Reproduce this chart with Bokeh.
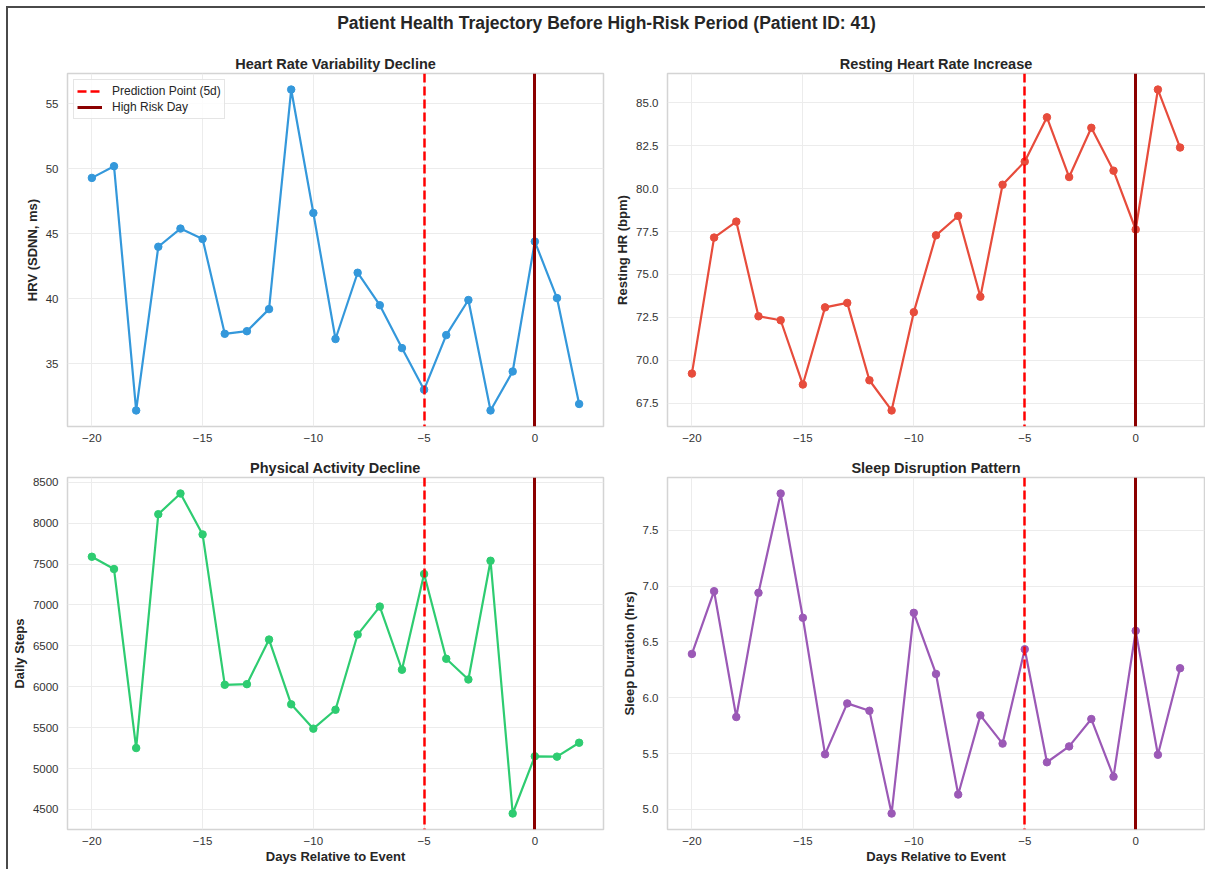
from bokeh.plotting import figure
from bokeh.models import Range1d, FixedTicker, NumeralTickFormatter, Div, Legend, LegendItem
from bokeh.layouts import column, row
from bokeh.embed import file_html
from bokeh.resources import INLINE

# ---------------- data ----------------
days = list(range(-20, 3))
hrv = [49.3, 50.2, 31.4, 44.0, 45.4, 44.6, 37.3, 37.5, 39.2, 56.1, 46.6, 36.9,
       42.0, 39.5, 36.2, 33.0, 37.2, 39.9, 31.4, 34.4, 44.4, 40.05, 31.9]
rhr = [69.22, 77.15, 78.08, 72.56, 72.33, 68.58, 73.08, 73.34, 68.83, 67.07, 72.8, 77.28,
       78.41, 73.7, 80.23, 81.58, 84.16, 80.68, 83.55, 81.05, 77.62, 85.78, 82.40]
steps = [7589, 7439, 5251, 8109, 8362, 7862, 6024, 6032, 6577, 5785, 5488, 5719,
         6638, 6980, 6208, 7378, 6342, 6089, 7540, 4451, 5150, 5146, 5316]
sleep = [6.393, 6.955, 5.828, 6.94, 7.83, 6.717, 5.494, 5.95, 5.884, 4.964, 6.761, 6.214,
         5.134, 5.843, 5.59, 6.435, 5.423, 5.565, 5.81, 5.294, 6.6, 5.49, 6.265]

PRED_DAY = -5
RISK_DAY = 0

x_ticks = [-20, -15, -10, -5, 0]
hrv_ticks = [35, 40, 45, 50, 55]
rhr_ticks = [67.5, 70.0, 72.5, 75.0, 77.5, 80.0, 82.5, 85.0]
steps_ticks = [4500, 5000, 5500, 6000, 6500, 7000, 7500, 8000, 8500]
sleep_ticks = [5.0, 5.5, 6.0, 6.5, 7.0, 7.5]

main_title = "Patient Health Trajectory Before High-Risk Period (Patient ID: 41)"
FONT = "Liberation Sans"
TXT = "#262626"


def pad(vals, f=0.05):
    lo, hi = min(vals), max(vals)
    s = hi - lo
    return lo - f * s, hi + f * s


def panel(title, ylabel, vals, color, yticks, yfmt, w, h, bl, br, bt, bb,
          xlabel=None, legend=False):
    x_lo, x_hi = pad(days)
    y_lo, y_hi = pad(vals)
    p = figure(width=w, height=h,
               min_border_left=bl, min_border_right=br,
               min_border_top=bt, min_border_bottom=bb,
               x_range=Range1d(x_lo, x_hi), y_range=Range1d(y_lo, y_hi),
               toolbar_location=None, output_backend="svg")
    p.background_fill_color = "white"
    p.border_fill_color = "white"
    p.outline_line_color = "#d4d4d4"
    p.outline_line_width = 1.5

    p.title.text = title
    p.title.align = "center"
    p.title.text_font = FONT
    p.title.text_font_size = "14.5px"
    p.title.text_font_style = "bold"
    p.title.text_color = TXT
    p.title.standoff = 4

    for ax in (p.xaxis, p.yaxis):
        ax.axis_line_color = None
        ax.major_tick_line_color = None
        ax.minor_tick_line_color = None
        ax.major_tick_out = 0
        ax.major_tick_in = 0
        ax.minor_tick_out = 0
        ax.minor_tick_in = 0
        ax.major_label_text_font = FONT
        ax.major_label_text_font_size = "11.5px"
        ax.major_label_text_color = "#333333"
        ax.axis_label_text_font = FONT
        ax.axis_label_text_font_size = "13px"
        ax.axis_label_text_font_style = "bold"
        ax.axis_label_text_color = TXT
    p.xaxis.ticker = FixedTicker(ticks=x_ticks)
    p.xaxis.major_label_overrides = {t: str(t).replace("-", "\u2212") for t in x_ticks}
    p.xaxis.major_label_standoff = 7
    p.yaxis.ticker = FixedTicker(ticks=yticks)
    if yfmt:
        p.yaxis.formatter = NumeralTickFormatter(format=yfmt)
    p.yaxis.major_label_standoff = 9
    p.yaxis.axis_label = ylabel
    p.yaxis.axis_label_standoff = 3
    if xlabel:
        p.xaxis.axis_label = xlabel
        p.xaxis.axis_label_standoff = 1

    p.xgrid.grid_line_color = "#ececec"
    p.ygrid.grid_line_color = "#ececec"
    p.xgrid.grid_line_width = 1
    p.ygrid.grid_line_width = 1

    p.line(days, vals, line_color=color, line_width=2.2)
    p.scatter(days, vals, size=7.5, fill_color=color, line_color=color)

    r1 = p.vspan(x=[PRED_DAY], line_color="#ff0000", line_width=2.5, line_dash="9 4")
    r2 = p.vspan(x=[RISK_DAY], line_color="#8b0000", line_width=3)

    if legend:
        lg = Legend(items=[LegendItem(label="Prediction Point (5d)", renderers=[r1]),
                           LegendItem(label="High Risk Day", renderers=[r2])],
                    location="top_left")
        lg.margin = 6
        lg.padding = 3
        lg.spacing = 0
        lg.glyph_width = 25
        lg.glyph_height = 16
        lg.label_height = 16
        lg.label_standoff = 10
        lg.label_text_font = FONT
        lg.label_text_font_size = "12px"
        lg.label_text_color = TXT
        lg.border_line_color = "#cccccc"
        lg.border_line_width = 1
        lg.background_fill_color = "white"
        lg.background_fill_alpha = 0.85
        p.add_layout(lg)
    return p


tl = panel("Heart Rate Variability Decline", "HRV (SDNN, ms)", hrv, "#3498db",
           hrv_ticks, None, 600, 410, 59, 5, 33, 24, legend=True)
tr = panel("Resting Heart Rate Increase", "Resting HR (bpm)", rhr, "#e74c3c",
           rhr_ticks, "0.0", 597, 410, 59, 1, 33, 24)
bl = panel("Physical Activity Decline", "Daily Steps", steps, "#2ecc71",
           steps_ticks, None, 600, 419, 59, 5, 27, 40, xlabel="Days Relative to Event")
br = panel("Sleep Disruption Pattern", "Sleep Duration (hrs)", sleep, "#9b59b6",
           sleep_ticks, "0.0", 597, 419, 59, 1, 27, 40, xlabel="Days Relative to Event")

title_div = Div(text="<b>%s</b>" % main_title, width=1197, height=32, margin=0,
                styles={"font-family": FONT, "font-size": "17.5px", "text-align": "center",
                        "line-height": "30px", "color": TXT})

layout = column(title_div, row(tl, tr), row(bl, br),
                stylesheets=[":host { margin-left: 6px; margin-top: 6px; "
                             "border-top: 2px solid #4a4a4a; border-left: 2px solid #4a4a4a; }"])

open("out.html", "w").write(file_html(layout, INLINE))
